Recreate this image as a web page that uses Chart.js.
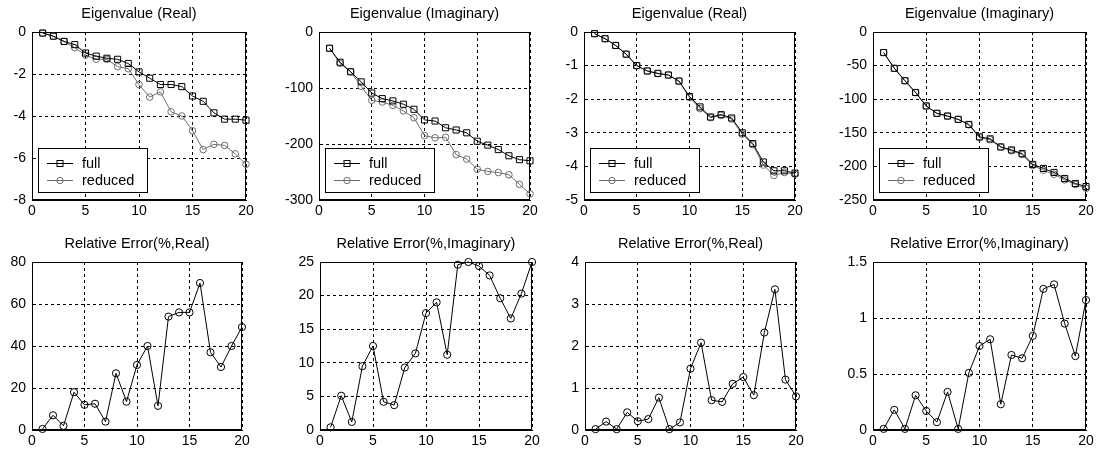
<!DOCTYPE html>
<html>
<head>
<meta charset="utf-8">
<script src="https://cdn.jsdelivr.net/npm/chart.js@4.4.0/dist/chart.umd.min.js"></script>
<style>
html, body { margin: 0; padding: 0; background: #fff; overflow: hidden; }
#wrap { position: relative; width: 1099px; height: 451px; }
#wrap canvas { position: absolute; }
</style>
</head>
<body>
<div id="wrap"></div>
<script>
// mode index (x axis)
var modes = [1,2,3,4,5,6,7,8,9,10,11,12,13,14,15,16,17,18,19,20];

// case A
var realFullA = [-0.05,-0.2,-0.45,-0.6,-1.0,-1.15,-1.25,-1.3,-1.5,-1.9,-2.2,-2.5,-2.5,-2.6,-3.05,-3.3,-3.85,-4.15,-4.15,-4.2];
var realRedA  = [-0.05,-0.2,-0.45,-0.75,-1.1,-1.3,-1.3,-1.65,-1.75,-2.5,-3.1,-2.85,-3.8,-4.0,-4.7,-5.6,-5.35,-5.4,-5.8,-6.3];
var imagFullA = [-29,-54,-71,-89,-109,-119,-123,-129,-138,-157,-159,-171,-175,-180,-195,-202,-210,-221,-228,-230];
var imagRedA  = [-29,-56,-71,-97,-122,-125,-131,-141,-153,-185,-189,-188,-219,-227,-245,-249,-251,-255,-272,-289];
var errRealA  = [0.5,7,2,18,12,12.5,4,27,13.5,31,40,11.5,54,56,56,70,37,30,40,49];
var errImagA  = [0.4,5.1,1.2,9.5,12.5,4.2,3.7,9.3,11.4,17.4,19,11.2,24.6,25,24.4,23,19.6,16.6,20.3,25];

// case B
var realFullB = [-0.05,-0.2,-0.4,-0.66,-1.0,-1.16,-1.23,-1.28,-1.46,-1.92,-2.23,-2.53,-2.46,-2.56,-3.0,-3.32,-3.87,-4.13,-4.13,-4.2];
var realRedB  = [-0.05,-0.2,-0.4,-0.66,-1.0,-1.16,-1.24,-1.28,-1.46,-1.95,-2.28,-2.55,-2.48,-2.59,-3.04,-3.35,-3.96,-4.27,-4.18,-4.23];
var imagFullB = [-30.6,-54,-72.5,-90,-110,-121,-125,-130,-137.5,-156,-159,-171,-175.5,-181,-197,-203,-209,-218,-225.5,-230];
var imagRedB  = [-30.6,-54.1,-72.5,-90.3,-110.2,-121.1,-125.4,-130,-138.2,-157.2,-160.3,-171.4,-176.7,-182.2,-198.7,-205.6,-211.7,-220.1,-227,-232.7];
var errRealB  = [0.02,0.2,0.02,0.42,0.21,0.26,0.77,0.02,0.18,1.46,2.08,0.71,0.67,1.1,1.26,0.83,2.32,3.35,1.2,0.8];
var errImagB  = [0.01,0.18,0.01,0.31,0.17,0.07,0.34,0.01,0.51,0.75,0.81,0.23,0.67,0.64,0.84,1.26,1.3,0.95,0.66,1.16];

var legendNames = ['full', 'reduced'];

var fontFam = '"Liberation Sans", Arial, sans-serif';

function pts(vals) {
    return modes.map(function(m, i) { return {x: m, y: vals[i]}; });
}

// frame box + legend inside the axes
var framePlugin = {
    id: 'frame',
    beforeDatasetsDraw: function(chart, args, opts) {
        var a = chart.chartArea;
        var ctx = chart.ctx;
        ctx.save();
        ctx.strokeStyle = '#000';
        ctx.lineWidth = 1;
        ctx.setLineDash([]);
        ctx.strokeRect(Math.round(a.left) + 0.5, Math.round(a.top) + 0.5,
            Math.round(a.right - a.left) - 1, Math.round(a.bottom - a.top) - 1);
        if (opts.legend) {
            var x0 = Math.round(a.left) + 6, w = 109, h = 44;
            var y0 = Math.round(a.bottom) - 8 - h;
            ctx.fillStyle = '#fff';
            ctx.fillRect(x0, y0, w, h);
            ctx.strokeRect(x0 + 0.5, y0 + 0.5, w, h);
            chart.data.datasets.forEach(function(ds, i) {
                var yy = y0 + 15 + i * 17 + 0.5;
                ctx.strokeStyle = ds.borderColor;
                ctx.beginPath();
                ctx.moveTo(x0 + 9, yy);
                ctx.lineTo(x0 + 35, yy);
                ctx.stroke();
                var cx = x0 + 22;
                if (ds.pointStyle === 'rect') {
                    ctx.strokeRect(cx - 3, yy - 3, 6, 6);
                } else {
                    ctx.beginPath();
                    ctx.arc(cx, yy, 3.2, 0, Math.PI * 2);
                    ctx.stroke();
                }
                ctx.fillStyle = '#000';
                ctx.font = '14.5px ' + fontFam;
                ctx.textBaseline = 'middle';
                ctx.fillText(ds.label, x0 + 44, yy);
            });
        }
        ctx.restore();
    }
};

var panels = [
    {title: 'Eigenvalue (Real)', full: realFullA, red: realRedA, min: -8, max: 0, step: 2, L: 32, R: 246, row: 0},
    {title: 'Eigenvalue (Imaginary)', full: imagFullA, red: imagRedA, min: -300, max: 0, step: 100, L: 319, R: 530, row: 0},
    {title: 'Eigenvalue (Real)', full: realFullB, red: realRedB, min: -5, max: 0, step: 1, L: 584, R: 795, row: 0},
    {title: 'Eigenvalue (Imaginary)', full: imagFullB, red: imagRedB, min: -250, max: 0, step: 50, L: 873, R: 1086, row: 0},
    {title: 'Relative Error(%,Real)', err: errRealA, min: 0, max: 80, step: 20, L: 32, R: 242, row: 1},
    {title: 'Relative Error(%,Imaginary)', err: errImagA, min: 0, max: 25, step: 5, L: 320, R: 532, row: 1},
    {title: 'Relative Error(%,Real)', err: errRealB, min: 0, max: 4, step: 1, L: 585, R: 796, row: 1},
    {title: 'Relative Error(%,Imaginary)', err: errImagB, min: 0, max: 1.5, step: 0.5, L: 873, R: 1086, row: 1}
];

var wrap = document.getElementById('wrap');

panels.forEach(function(p) {
    var cv = document.createElement('canvas');
    var w = p.R - p.L + 40 + 12;
    var h = p.row === 0 ? 222 : 221;
    cv.width = w;
    cv.height = h;
    cv.style.left = (p.L - 40) + 'px';
    cv.style.top = (p.row === 0 ? 0 : 230) + 'px';
    cv.style.width = w + 'px';
    cv.style.height = h + 'px';
    wrap.appendChild(cv);

    var datasets;
    if (p.err) {
        datasets = [{
            label: 'error',
            data: pts(p.err),
            borderColor: '#000',
            borderWidth: 1,
            pointStyle: 'circle',
            pointRadius: 3.6,
            pointBorderColor: '#000',
            pointBackgroundColor: 'rgba(0,0,0,0)',
            pointBorderWidth: 1,
            tension: 0,
            clip: false
        }];
    } else {
        datasets = [{
            label: legendNames[0],
            data: pts(p.full),
            borderColor: '#000',
            borderWidth: 1,
            pointStyle: 'rect',
            pointRadius: 4.3,
            pointBorderColor: '#000',
            pointBackgroundColor: 'rgba(0,0,0,0)',
            pointBorderWidth: 1,
            tension: 0,
            clip: false
        }, {
            label: legendNames[1],
            data: pts(p.red),
            borderColor: '#6e6e6e',
            borderWidth: 1,
            pointStyle: 'circle',
            pointRadius: 3.3,
            pointBorderColor: '#6e6e6e',
            pointBackgroundColor: 'rgba(0,0,0,0)',
            pointBorderWidth: 1,
            tension: 0,
            clip: false
        }];
    }

    var xh = p.row === 0 ? 22 : 21;

    new Chart(cv, {
        type: 'line',
        data: { datasets: datasets },
        options: {
            responsive: false,
            animation: false,
            events: [],
            layout: { padding: { right: 12, left: 0, top: 0, bottom: 0 } },
            scales: {
                x: {
                    type: 'linear',
                    min: 0,
                    max: 20,
                    afterFit: function(s) { s.height = xh; },
                    ticks: {
                        stepSize: 5,
                        padding: 3,
                        color: '#000',
                        font: { family: fontFam, size: 14 },
                        maxRotation: 0,
                        callback: function(v) { return String(v); }
                    },
                    grid: { color: '#000', lineWidth: 1, drawTicks: false },
                    border: { display: true, color: '#000', dash: [3, 3] }
                },
                y: {
                    type: 'linear',
                    min: p.min,
                    max: p.max,
                    afterFit: function(s) { s.width = 40; },
                    ticks: {
                        stepSize: p.step,
                        padding: 6,
                        color: '#000',
                        font: { family: fontFam, size: 14 },
                        callback: function(v) { return String(+v.toFixed(2)); }
                    },
                    grid: { color: '#000', lineWidth: 1, drawTicks: false },
                    border: { display: true, color: '#000', dash: [3, 3] }
                }
            },
            plugins: {
                legend: { display: false },
                tooltip: { enabled: false },
                title: {
                    display: true,
                    text: p.title,
                    fullSize: false,
                    color: '#000',
                    font: { family: fontFam, size: 14.5, weight: 'normal' },
                    padding: { top: 5, bottom: 9.6 }
                },
                frame: { legend: !p.err }
            }
        },
        plugins: [framePlugin]
    });
});
</script>
</body>
</html>
